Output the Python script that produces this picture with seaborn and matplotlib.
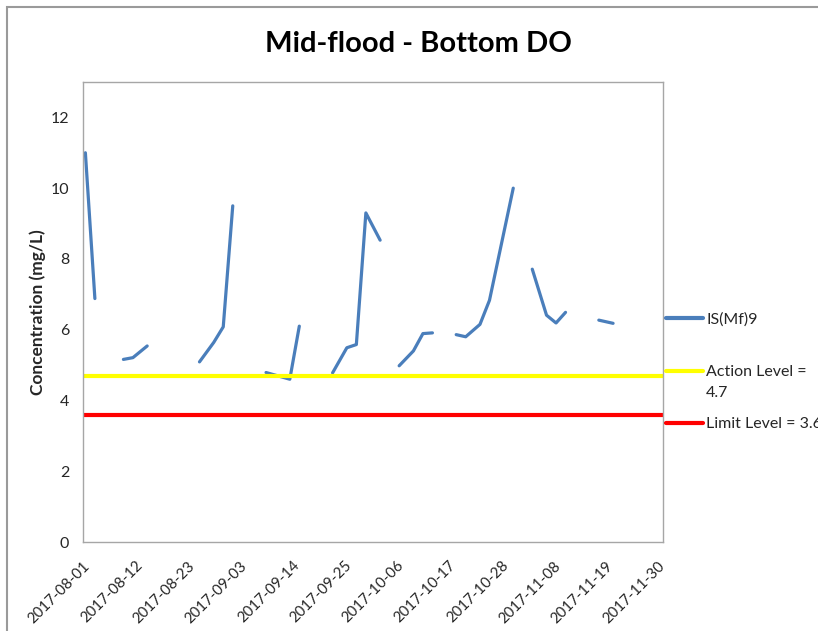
import numpy as np
import pandas as pd
import matplotlib
matplotlib.use('Agg')
from matplotlib import pyplot as plt
from matplotlib.lines import Line2D
from matplotlib.patches import Rectangle
import matplotlib.dates as mdates
import seaborn as sns

# Dane (NaN = brak pomiaru -> przerwa w linii)
dates = ['2017-08-01', '2017-08-03', '2017-08-07',
         '2017-08-09', '2017-08-11', '2017-08-14', '2017-08-16',
         '2017-08-25', '2017-08-28', '2017-08-30', '2017-09-01', '2017-09-04',
         '2017-09-08', '2017-09-13', '2017-09-15', '2017-09-18',
         '2017-09-22', '2017-09-25', '2017-09-27', '2017-09-29', '2017-10-02', '2017-10-04',
         '2017-10-06', '2017-10-09', '2017-10-11', '2017-10-13', '2017-10-16',
         '2017-10-18', '2017-10-20', '2017-10-23', '2017-10-25', '2017-10-30', '2017-11-01',
         '2017-11-03', '2017-11-06', '2017-11-08', '2017-11-10', '2017-11-13',
         '2017-11-17', '2017-11-20']
do_values = [11.0, 6.88, np.nan,
             5.16, 5.21, 5.54, np.nan,
             5.09, 5.64, 6.08, 9.50, np.nan,
             4.79, 4.60, 6.10, np.nan,
             4.78, 5.49, 5.58, 9.30, 8.53, np.nan,
             4.98, 5.40, 5.89, 5.91, np.nan,
             5.86, 5.80, 6.15, 6.83, 10.0, np.nan,
             7.71, 6.41, 6.19, 6.49, np.nan,
             6.27, 6.18]
action_level = 4.7
limit_level = 3.6
series_name = 'IS(Mf)9'
tick_dates = pd.date_range('2017-08-01', '2017-11-30', freq='11D')

df = pd.DataFrame({'date': pd.to_datetime(dates), 'DO': do_values})
df['seg'] = df['DO'].isna().cumsum()
df = df.dropna()
# Excel: punkty w środku "slotu" dnia
df['x'] = df['date'] + pd.Timedelta(hours=12)

sns.set_style('white')
plt.rcParams['font.family'] = ['Lato', 'DejaVu Sans']

blue = '#4A7EBB'
yellow = '#FFFF00'
red = '#FF0000'
grey = '#A6A6A6'
txt = '#262626'
W, H = 818, 631

fig = plt.figure(figsize=(W / 100, H / 100), dpi=100)
fig.patches.append(Rectangle((7 / W, -0.1), 1.2, 1.1 - 7 / H, transform=fig.transFigure,
                             fill=False, edgecolor='#9A9A9A', linewidth=1.5))
ax = fig.add_axes([83 / W, 1 - 542 / H, (663 - 83) / W, (542 - 82) / H])

sns.lineplot(data=df, x='x', y='DO', units='seg', estimator=None, color=blue,
             linewidth=2.3, ax=ax, solid_capstyle='round', solid_joinstyle='round')
ax.axhline(action_level, color=yellow, linewidth=3)
ax.axhline(limit_level, color=red, linewidth=3)

ax.set_xlim(pd.Timestamp('2017-08-01'), pd.Timestamp('2017-12-01'))
ax.set_ylim(0, 13)
ax.set_yticks(range(0, 13, 2))
ax.set_xticks(tick_dates)
ax.xaxis.set_major_formatter(mdates.DateFormatter('%Y-%m-%d'))
plt.setp(ax.get_xticklabels(), rotation=45, ha='right', rotation_mode='anchor')
ax.tick_params(axis='both', direction='out', length=5, width=1, color=grey,
               labelcolor=txt)
ax.tick_params(axis='y', labelsize=11.5, pad=5)
ax.tick_params(axis='x', labelsize=10.8, pad=7)
for s in ax.spines.values():
    s.set_color(grey)
    s.set_linewidth(1)

ax.set_xlabel('')
ax.set_ylabel('Concentration (mg/L)', fontsize=12.5, fontweight='bold', labelpad=3)
fig.text(418 / W, 1 - 44 / H, 'Mid-flood - Bottom DO', ha='center', va='center',
         fontsize=21, fontweight='bold', color='black')

# legenda po prawej (jak w Excelu)
leg_items = [(blue, series_name, 318),
             (yellow, 'Action Level =\n%.1f' % action_level, 371),
             (red, 'Limit Level = %.1f' % limit_level, 423)]
for col, lab, ypx in leg_items:
    fig.add_artist(Line2D([666 / W, 703 / W], [1 - ypx / H] * 2, color=col,
                          linewidth=3, transform=fig.transFigure))
    fig.text(706 / W, 1 - (ypx - 6) / H, lab, ha='left', va='top', fontsize=11.5,
             color=txt, linespacing=1.6)

fig.savefig('out.png', dpi=100)
